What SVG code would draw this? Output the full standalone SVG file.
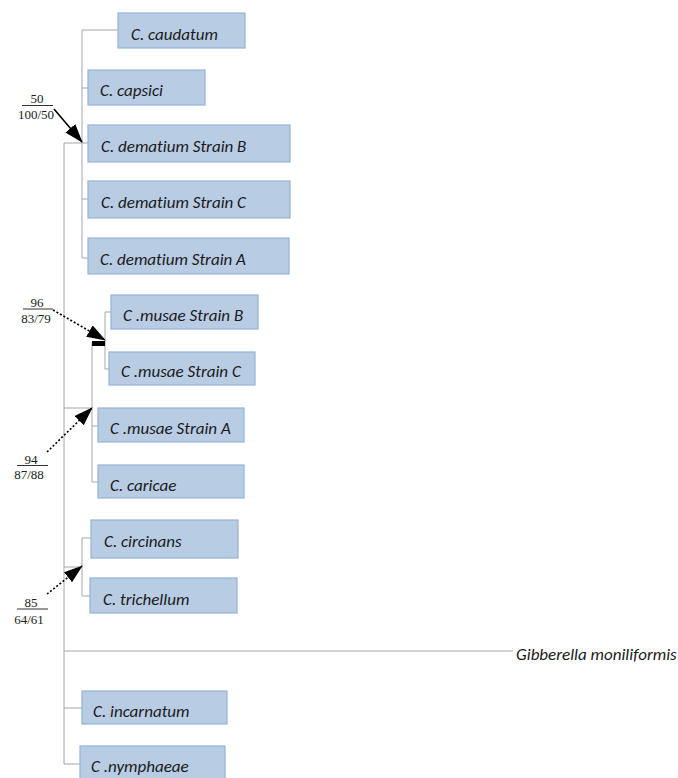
<svg xmlns="http://www.w3.org/2000/svg" width="678" height="778" viewBox="0 0 678 778">
<defs>
<marker id="ah" markerUnits="userSpaceOnUse" markerWidth="20" markerHeight="14" refX="18" refY="6.5" orient="auto">
<path d="M0,0 L19,6.5 L0,13 z" fill="#000"/>
</marker>
<style>
.box{fill:#b8cce4;stroke:#95b3d7;stroke-width:1.2}
.lbl{font-family:Carlito,Calibri,Lato,"Open Sans",sans-serif;font-style:italic;font-size:17px;fill:#1a1a1a;font-variant-ligatures:none}
.br{stroke:#a6a6a6;stroke-width:1;fill:none}
.sup{font-family:"Liberation Serif","Times New Roman",serif;font-size:13px;fill:#222;text-anchor:middle}
.ul{stroke:#333;stroke-width:1}
.arr{stroke:#000;stroke-width:1.6;fill:none;marker-end:url(#ah)}
.dot{stroke-dasharray:2 2}
</style>
</defs>
<rect width="678" height="778" fill="#fff"/>
<g id="connectors">
<path class="br" d="M64,143 V764 M64,143 H82 M82,30 V258 M82,30 H118 M82,88 H88 M82,143 H88 M82,199 H88 M82,258 H88"/>
<path class="br" d="M64,408 H92 M92,342 V482 M92,426 H98 M92,482 H98 M105,312 V369 M105,312 H111 M105,369 H109"/>
<path class="br" d="M64,567 H82 M82,538 V596 M82,538 H91 M82,596 H90"/>
<path class="br" d="M64,651 H513 M64,708 H82 M64,764 H80"/>
<rect x="92" y="341" width="13" height="5" fill="#000"/>
<path class="arr" d="M54,109 L82,142"/>
<path class="arr dot" d="M53,310 L105,340"/>
<path class="arr dot" d="M47,452 L92,408"/>
<path class="arr dot" d="M47,594 L82,566"/>
</g>
<g id="support-50"><text class="sup" x="37" y="103">50</text><line class="ul" x1="22" y1="105.5" x2="53" y2="105.5"/><text class="sup" x="36" y="119">100/50</text></g>
<g id="support-96"><text class="sup" x="37" y="307">96</text><line class="ul" x1="23" y1="309" x2="53" y2="309" stroke="#999"/><text class="sup" x="36" y="323">83/79</text></g>
<g id="support-94"><text class="sup" x="31" y="464">94</text><line class="ul" x1="17" y1="465.5" x2="48" y2="465.5"/><text class="sup" x="29" y="479">87/88</text></g>
<g id="support-85"><text class="sup" x="31" y="607">85</text><line class="ul" x1="17" y1="609" x2="48" y2="609"/><text class="sup" x="29" y="624">64/61</text></g>
<g id="caudatum"><rect class="box" x="118" y="13" width="127" height="35"/><text class="lbl" x="131" y="40">C. caudatum</text></g>
<g id="capsici"><rect class="box" x="88" y="70" width="117" height="35"/><text class="lbl" x="100" y="96">C. capsici</text></g>
<g id="dematiumB"><rect class="box" x="88" y="125" width="202" height="37"/><text class="lbl" x="101" y="152">C. dematium Strain B</text></g>
<g id="dematiumC"><rect class="box" x="88" y="181" width="202" height="37"/><text class="lbl" x="101" y="208">C. dematium Strain C</text></g>
<g id="dematiumA"><rect class="box" x="88" y="238" width="201" height="36"/><text class="lbl" x="100" y="265">C. dematium Strain A</text></g>
<g id="musaeB"><rect class="box" x="111" y="295" width="147" height="34"/><text class="lbl" x="123" y="321">C .musae Strain B</text></g>
<g id="musaeC"><rect class="box" x="109" y="352" width="146" height="33"/><text class="lbl" x="121" y="377">C .musae Strain C</text></g>
<g id="musaeA"><rect class="box" x="98" y="408" width="146" height="34"/><text class="lbl" x="110" y="434">C .musae Strain A</text></g>
<g id="caricae"><rect class="box" x="98" y="465" width="146" height="33"/><text class="lbl" x="110" y="491">C. caricae</text></g>
<g id="circinans"><rect class="box" x="91" y="520" width="147" height="38"/><text class="lbl" x="104" y="547">C. circinans</text></g>
<g id="trichellum"><rect class="box" x="90" y="578" width="147" height="35"/><text class="lbl" x="103" y="605">C. trichellum</text></g>
<g id="gibberella"><text class="lbl" x="516" y="660">Gibberella moniliformis</text></g>
<g id="incarnatum"><rect class="box" x="82" y="691" width="145" height="33"/><text class="lbl" x="93" y="717">C. incarnatum</text></g>
<g id="nymphaeae"><rect class="box" x="80" y="746" width="145" height="36"/><text class="lbl" x="91" y="772">C .nymphaeae</text></g>
</svg>
